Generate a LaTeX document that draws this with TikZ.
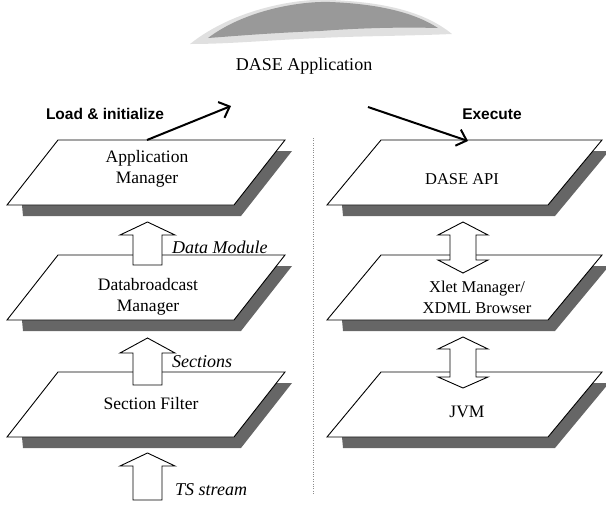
\documentclass[tikz,border=0pt]{standalone}
\usepackage{fontspec}
\setmainfont{Liberation Serif}
\newfontfamily\headsans{Liberation Sans}
\usetikzlibrary{arrows.meta}

\tikzset{
  platebody/.style={draw=black, line width=0.9pt, fill=white, line join=miter},
  plateshade/.style={fill=black!60},
  blockarrow/.style={draw=black, line width=0.9pt, fill=white, line join=miter},
  flowarrow/.style={line width=2pt, -{Straight Barb[length=9pt, width=17pt]}},
  layertext/.style={align=center, inner sep=0pt, font=\fontsize{17.5}{21}\selectfont},
  flowtext/.style={anchor=west, inner sep=0pt, font=\fontsize{18}{20}\selectfont\itshape},
  phasetext/.style={inner sep=0pt, font=\headsans\bfseries\fontsize{15.5}{18}\selectfont},
}

% layer plate: #1 = x of lower-left corner, #2 = y of top edge, #3 = skew, #4 = edge length
\newcommand\layerplate[4]{%
  \fill[plateshade] ({#1+#3+7},{#2+11}) -- ({#1+#3+#4+7},{#2+11}) -- ({#1+#4+7},{#2+76})
    -- ({#1+16},{#2+76}) -- ({#1+15},{#2+65}) -- cycle;
  \draw[platebody] ({#1+#3},{#2}) -- ({#1+#3+#4},{#2}) -- ({#1+#4},{#2+65})
    -- ({#1},{#2+65}) -- cycle;
}
% hollow upward arrow: #1 = centre x, #2 = tip y, #3 = head base y, #4 = tail y
\newcommand\upblock[4]{%
  \draw[blockarrow] ({#1},{#2}) -- ({#1+27.5},{#3}) -- ({#1+14.5},{#3}) -- ({#1+14.5},{#4})
    -- ({#1-14.5},{#4}) -- ({#1-14.5},{#3}) -- ({#1-27.5},{#3}) -- cycle;
}
% hollow two-way arrow: #1 = centre x, #2 top tip, #3 top head base, #4 lower head base, #5 lower tip
\newcommand\dualblock[5]{%
  \draw[blockarrow] ({#1},{#2}) -- ({#1+25},{#3}) -- ({#1+13},{#3}) -- ({#1+13},{#4})
    -- ({#1+25},{#4}) -- ({#1},{#5}) -- ({#1-25},{#4}) -- ({#1-13},{#4})
    -- ({#1-13},{#3}) -- ({#1-25},{#3}) -- cycle;
}

\begin{document}
\begin{tikzpicture}[x=1pt, y=-1pt]
  \useasboundingbox (0,0) rectangle (606,507);

  % shaded cloud above the title
  \fill[black!12] (190,44) .. controls (235,8) and (300,-2) .. (330,0)
    .. controls (385,2) and (425,12) .. (452,34)
    .. controls (405,36) and (360,36) .. (320,38)
    .. controls (270,40) and (230,44) .. (190,44) -- cycle;
  \fill[black!40] (208,38) .. controls (245,10) and (300,1) .. (330,2)
    .. controls (380,4) and (415,13) .. (438,28)
    .. controls (400,27) and (360,28) .. (320,31)
    .. controls (270,33) and (235,36) .. (208,38) -- cycle;

  \node[inner sep=0pt, font=\fontsize{18}{20}\selectfont] (title) at (304,66) {DASE Application};

  % separator between the two stacks
  \draw[black!45, line width=0.6pt, dash pattern=on 0.8pt off 1.6pt] (313,138) -- (313,495);

  % left stack
  \layerplate{7}{140}{51}{227}
  \layerplate{7}{255}{51}{227}
  \layerplate{7}{372}{51}{227}
  % right stack
  \layerplate{327}{140}{54}{221}
  \layerplate{327}{255}{54}{221}
  \layerplate{327}{372}{54}{221}

  % data flow in the left stack
  \upblock{147.5}{222}{235}{265}
  \upblock{147.5}{338}{353}{385}
  \upblock{147.5}{453}{466}{500}
  % calls in the right stack
  \dualblock{463}{222}{235}{260}{273}
  \dualblock{463}{337}{349}{377}{388}

  % layer names
  \node[layertext] (appmgr) at (147,169) {Application\\Manager};
  \node[layertext] (dbmgr)  at (148,297) {Databroadcast\\Manager};
  \node[layertext] (secflt) at (151,404) {Section Filter};
  \node[layertext, font=\fontsize{16.5}{20}\selectfont] (daseapi) at (462,179) {DASE API};
  \node[layertext, font=\fontsize{16.5}{21}\selectfont] (xlet) at (477,297) {Xlet Manager/\\XDML Browser};
  \node[layertext] (jvm)    at (467,412) {JVM};

  % data names
  \node[flowtext] (datamod) at (172,247) {Data Module};
  \node[flowtext] (sect)    at (172,362) {Sections};
  \node[flowtext] (tsstr)   at (175,490) {TS stream};

  % life-cycle phases
  \node[phasetext] (loadlbl) at (105,114) {Load \& initialize};
  \node[phasetext] (execlbl) at (492,114) {Execute};
  \coordinate (loadfrom) at (147,140);
  \coordinate (loadto)   at (231,106);
  \coordinate (execfrom) at (368,107);
  \coordinate (execto)   at (468,141);
  \draw[flowarrow] (loadfrom) -- (loadto);
  \draw[flowarrow] (execfrom) -- (execto);
\end{tikzpicture}
\end{document}
